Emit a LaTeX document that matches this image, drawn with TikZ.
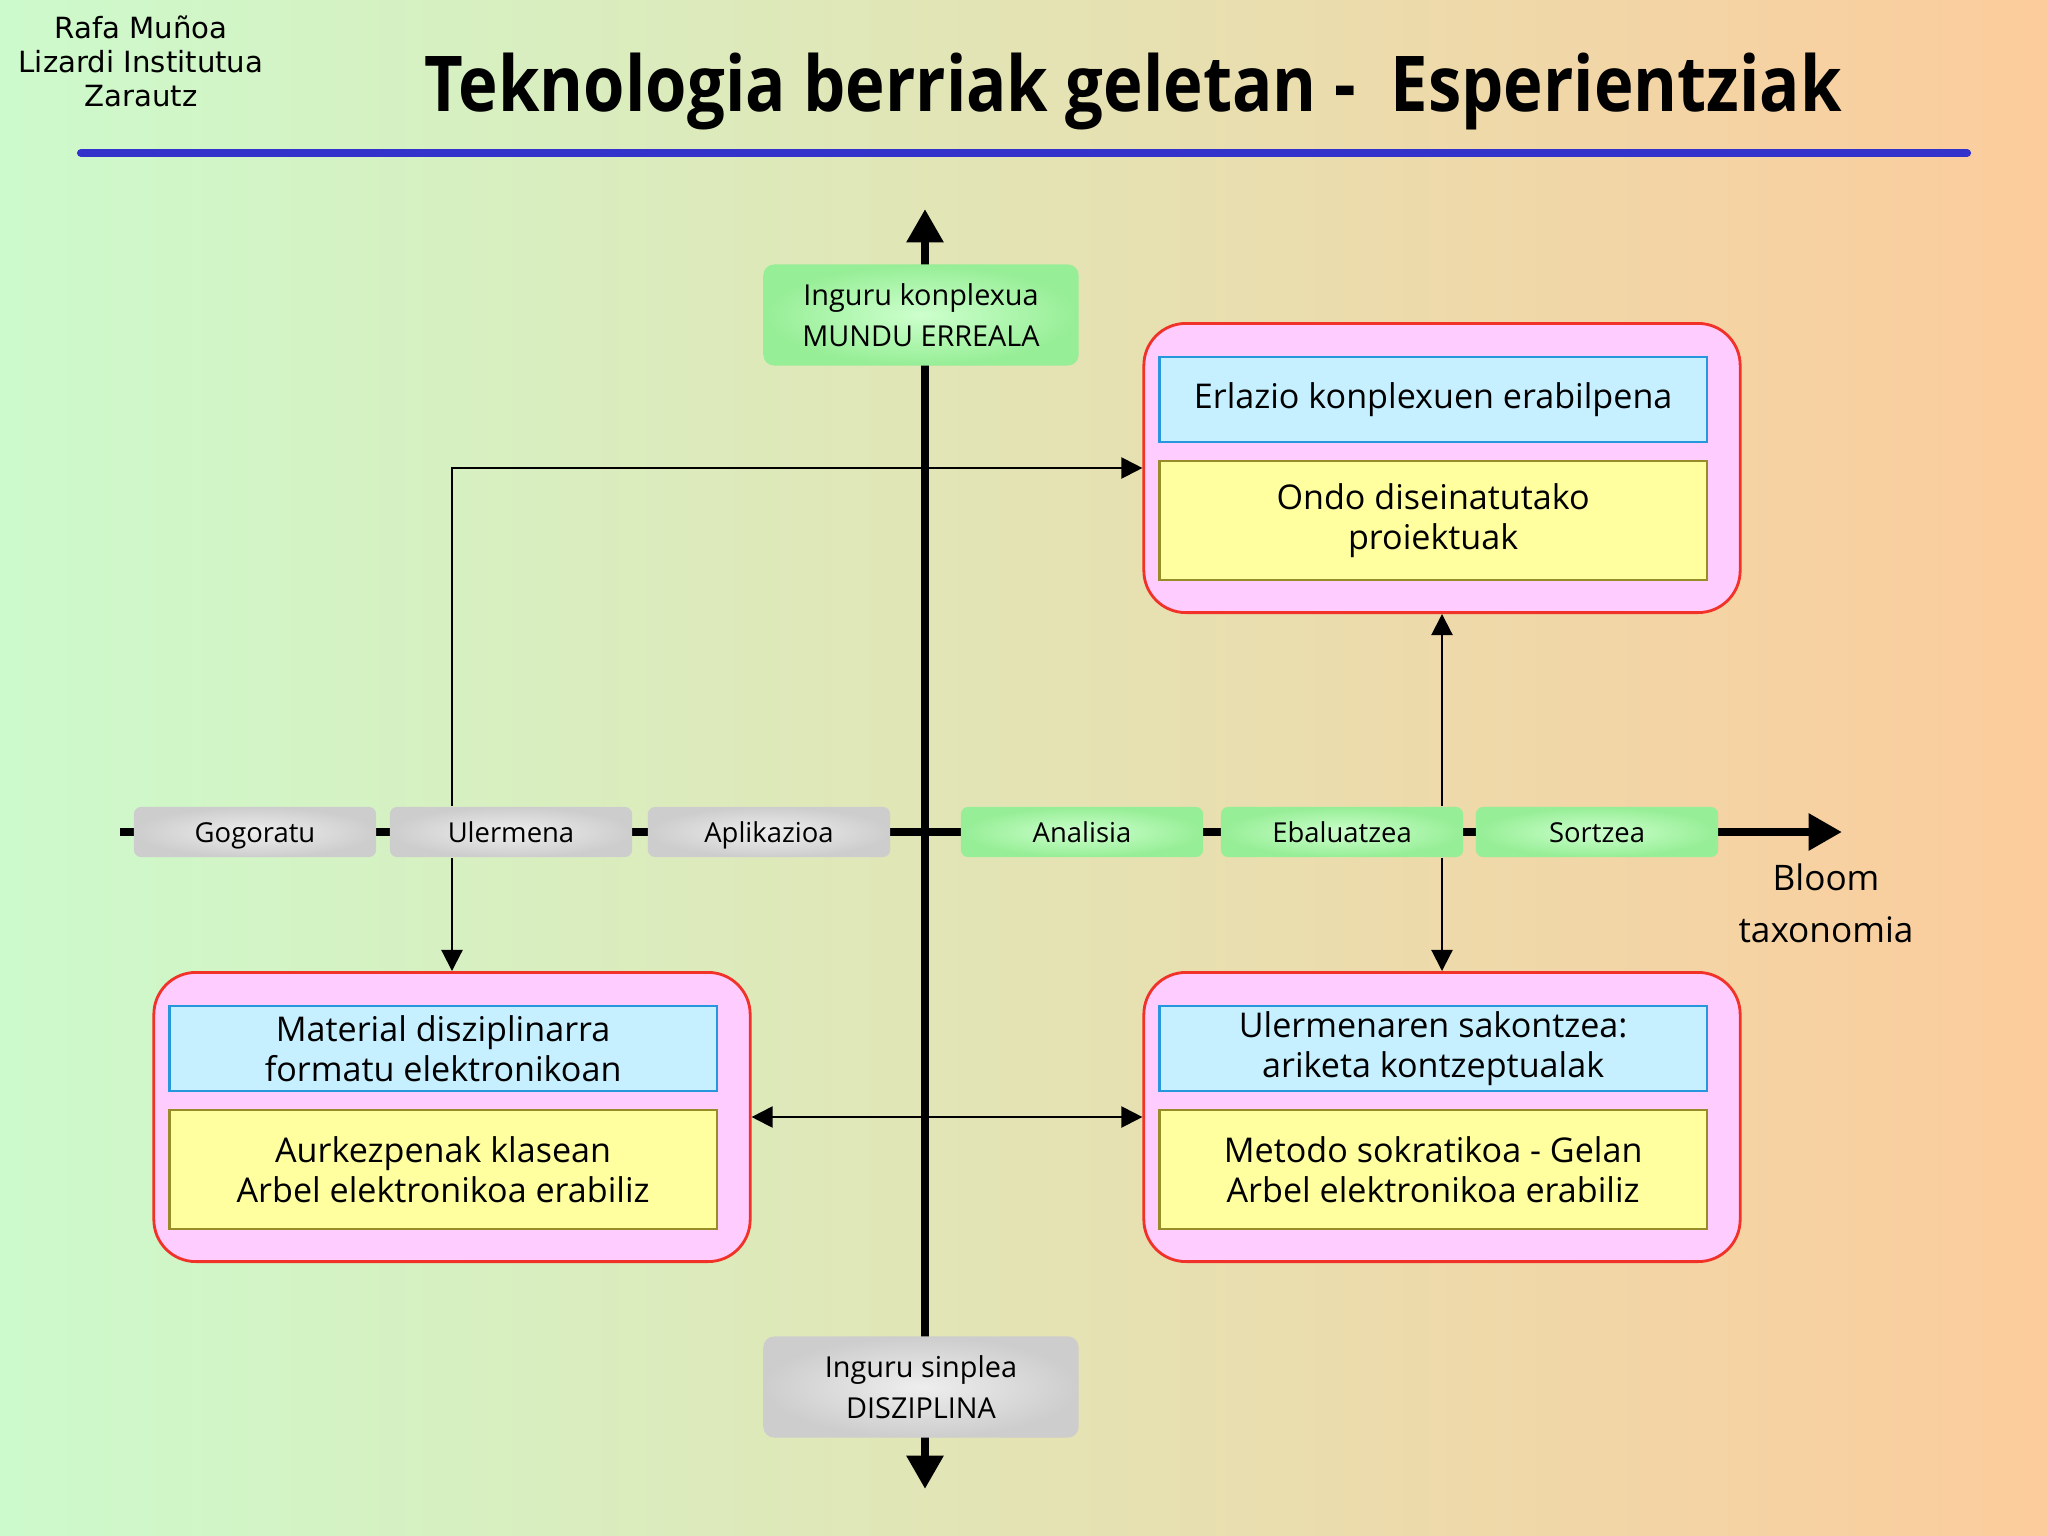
\documentclass[tikz,border=0pt]{standalone}
\usepackage{graphicx}
\usepackage{fontspec}
\setmainfont{Open Sans}
\newfontfamily\headfont{DejaVu Sans}
\usetikzlibrary{arrows.meta,positioning,calc}

\definecolor{bggreen}{RGB}{204,250,204}
\definecolor{bgmid}{RGB}{226,236,184}
\definecolor{bgorange}{RGB}{252,204,156}
\definecolor{pinkfill}{RGB}{255,204,255}
\definecolor{pinkline}{RGB}{240,50,40}
\definecolor{bluefill}{RGB}{198,240,255}
\definecolor{blueline}{RGB}{40,150,220}
\definecolor{yellowfill}{RGB}{255,255,160}
\definecolor{yellowline}{RGB}{150,140,40}
\definecolor{rulecolor}{RGB}{51,51,204}
\definecolor{greenin}{RGB}{205,255,205}
\definecolor{greenout}{RGB}{150,238,150}
\definecolor{greyin}{RGB}{238,238,238}
\definecolor{greyout}{RGB}{205,205,205}

\tikzset{
	>={Triangle[length=6pt,width=6pt]},
	link/.style = {line width=0.6pt},
	axis/.style = {line width=2.5pt},
	pinkbox/.style = {draw=pinkline, fill=pinkfill, line width=0.8pt, rounded corners=0.42cm,
		minimum width=5.96cm, minimum height=2.89cm, inner sep=0pt},
	bluebox/.style = {draw=blueline, fill=bluefill, line width=0.6pt, minimum width=5.47cm,
		minimum height=0.85cm, inner sep=0pt, align=center, font=\fontsize{9.7}{11.5}\selectfont},
	yellowbox/.style = {draw=yellowline, fill=yellowfill, line width=0.6pt, minimum width=5.47cm,
		minimum height=1.19cm, inner sep=0pt, align=center, font=\fontsize{9.7}{11.5}\selectfont},
	bloomgrey/.style = {inner color=greyin, outer color=greyout, rounded corners=2pt,
		minimum width=2.42cm, minimum height=0.5cm, inner sep=0pt, text height=1.5ex, text depth=0.35ex,
		font=\fontsize{7.8}{9}\selectfont},
	bloomgreen/.style = {bloomgrey, inner color=greenin, outer color=greenout},
	envgreen/.style = {inner color=greenin, outer color=greenout, rounded corners=3pt,
		minimum width=3.15cm, minimum height=1.01cm, inner sep=0pt, align=center,
		font=\fontsize{8.2}{11.5}\selectfont},
	envgrey/.style = {envgreen, inner color=greyin, outer color=greyout}
}

\begin{document}
\begin{tikzpicture}[x=0.01cm,y=-0.01cm]
	\shade[left color=bggreen, middle color=bgmid, right color=bgorange] (0,0) rectangle (2048,1536);
	\useasboundingbox (0,0) rectangle (2048,1536);

	% header
	\node[font=\headfont\fontsize{8.3}{9.7}\selectfont, align=center] (school) at (141,61)
		{Rafa Muñoa\\Lizardi Institutua\\Zarautz};
	\node[anchor=north west, inner sep=0pt] (title) at (424,52)
		{\resizebox*{403pt}{21.9pt}{\bfseries Teknologia berriak geletan -\ \ Esperientziak}};
	\draw[rulecolor, line width=2.3pt, line cap=round] (81,153) -- (1967,153);

	% axes
	\coordinate (ytop) at (925,209);
	\coordinate (ybot) at (925,1489);
	\coordinate (xleft) at (120,832);
	\coordinate (xright) at (1842,832);
	\draw[axis, -{Triangle[length=9.5pt,width=10pt]}] (xleft) -- (xright);
	\draw[axis, {Triangle[length=9.5pt,width=10pt]}-{Triangle[length=9.5pt,width=10pt]}] (ybot) -- (ytop);

	% bloom levels
	\node[bloomgrey] (gogoratu) at (255,832) {Gogoratu};
	\node[bloomgrey] (ulermena) at (511,832) {Ulermena};
	\node[bloomgrey] (aplikazioa) at (769,832) {Aplikazioa};
	\node[bloomgreen] (analisia) at (1082,832) {Analisia};
	\node[bloomgreen] (ebaluatzea) at (1342,832) {Ebaluatzea};
	\node[bloomgreen] (sortzea) at (1597,832) {Sortzea};
	\node[align=center, font=\fontsize{10}{14.8}\selectfont] (bloom) at (1826,903) {Bloom\\taxonomia};

	% environments
	\node[envgreen] (konplexua) at (921,315) {Inguru konplexua\\MUNDU ERREALA};
	\node[envgrey] (sinplea) at (921,1387) {Inguru sinplea\\DISZIPLINA};

	% quadrants
	\node[pinkbox] (tr) at (1442,468) {};
	\node[bluebox, anchor=north west] (trtop) at ($(tr.north west)+(16,34)$) {Erlazio konplexuen erabilpena};
	\node[yellowbox, anchor=north west] (trbot) at ($(trtop.south west)+(0,17)$) {Ondo diseinatutako\\proiektuak};

	\node[pinkbox] (bl) at (452,1117) {};
	\node[bluebox, anchor=north west] (bltop) at ($(bl.north west)+(16,34)$) {Material disziplinarra\\formatu elektronikoan};
	\node[yellowbox, anchor=north west] (blbot) at ($(bltop.south west)+(0,17)$) {Aurkezpenak klasean\\Arbel elektronikoa erabiliz};

	\node[pinkbox] (br) at (1442,1117) {};
	\node[bluebox, anchor=north west] (brtop) at ($(br.north west)+(16,34)$) {Ulermenaren sakontzea:\\ariketa kontzeptualak};
	\node[yellowbox, anchor=north west] (brbot) at ($(brtop.south west)+(0,17)$) {Metodo sokratikoa - Gelan\\Arbel elektronikoa erabiliz};

	% links
	\draw[link, ->] (ulermena.north -| bl.north) |- (tr.west);
	\draw[link, ->] (ulermena.south -| bl.north) -- (bl.north);
	\draw[link, ->] (ebaluatzea.north -| tr.south) -- (tr.south);
	\draw[link, ->] (ebaluatzea.south -| br.north) -- (br.north);
	\draw[link, <->] (bl.east) -- (br.west);
\end{tikzpicture}
\end{document}
